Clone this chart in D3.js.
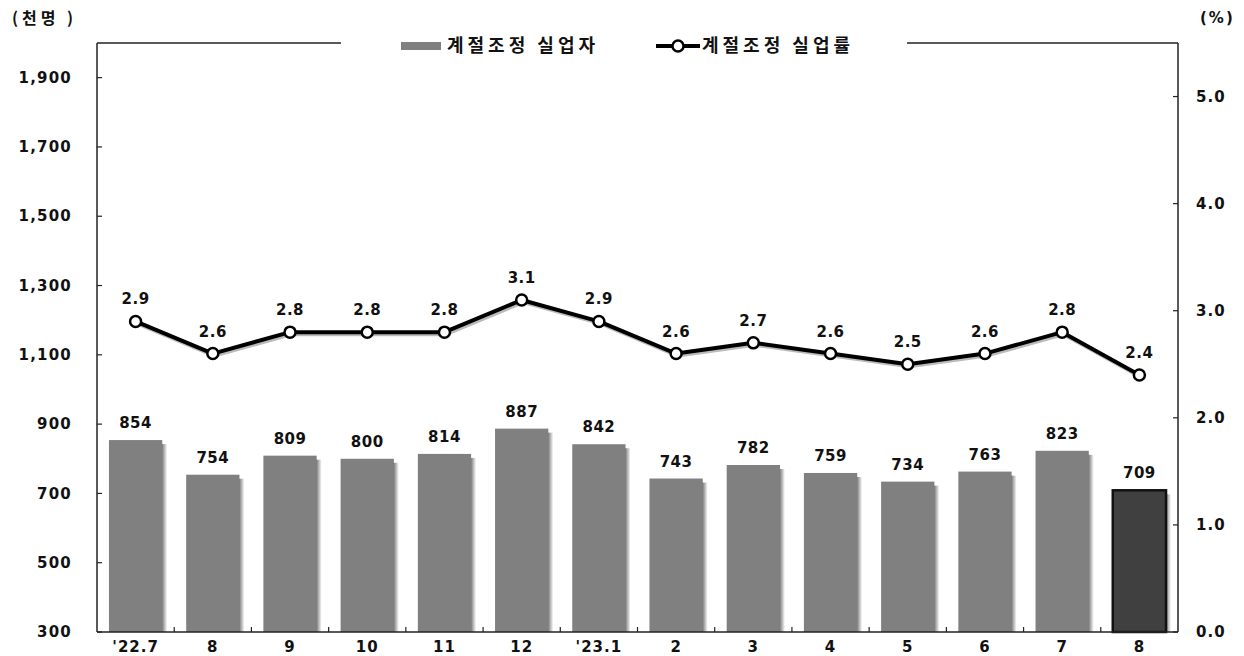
<!DOCTYPE html>
<html>
<head>
<meta charset="utf-8">
<script src="https://cdn.jsdelivr.net/npm/d3@7"></script>
<style>
  body { margin: 0; background: #fff; }
  svg text { font-family: "DejaVu Sans", sans-serif; font-weight: bold; fill: #111; font-size: 15px; letter-spacing: 0.5px; }
  svg text.kr { font-family: "Noto Sans CJK KR", sans-serif; }
</style>
</head>
<body>
<div id="graph"></div>
<script>
const width = 1244;
const height = 656;
const margin = { top: 43, right: 66, bottom: 24, left: 97 };

// Data
const months = ["'22.7", "8", "9", "10", "11", "12", "'23.1", "2", "3", "4", "5", "6", "7", "8"];
const unemployed = [854, 754, 809, 800, 814, 887, 842, 743, 782, 759, 734, 763, 823, 709];
const unemploymentRate = [2.9, 2.6, 2.8, 2.8, 2.8, 3.1, 2.9, 2.6, 2.7, 2.6, 2.5, 2.6, 2.8, 2.4];
const leftTicks = [300, 500, 700, 900, 1100, 1300, 1500, 1700, 1900];
const rightTicks = [0, 1, 2, 3, 4, 5];

const svg = d3
  .select("#graph")
  .append("svg")
  .attr("width", width)
  .attr("height", height);

const defs = svg.append("defs");
const shade = defs.append("linearGradient").attr("id", "shade");
shade.append("stop").attr("offset", "0%").attr("stop-color", "#666");
shade.append("stop").attr("offset", "100%").attr("stop-color", "#fff");

const x0 = margin.left;
const x1 = width - margin.right;
const y0 = height - margin.bottom;
const y1 = margin.top;

// Scales
const xScale = d3
  .scaleBand()
  .domain(d3.range(months.length))
  .range([x0, x1])
  .paddingInner(0.31)
  .paddingOuter(0.155);
const band = (x1 - x0) / months.length;

const yLeft = d3.scaleLinear().domain([300, 2000]).range([y0, y1]);
const yRight = d3.scaleLinear().domain([0, 5.5]).range([y0, y1]);

// Bars with shadow on the right
const bars = svg.append("g");
bars
  .selectAll("rect.shadow")
  .data(unemployed)
  .join("rect")
  .attr("class", "shadow")
  .attr("x", (d, i) => xScale(i) + xScale.bandwidth() - 1)
  .attr("y", (d) => yLeft(d) + 4)
  .attr("width", 6)
  .attr("height", (d) => y0 - yLeft(d) - 4)
  .attr("fill", "url(#shade)");
bars
  .selectAll("rect.bar")
  .data(unemployed)
  .join("rect")
  .attr("class", "bar")
  .attr("x", (d, i) => xScale(i))
  .attr("y", (d) => yLeft(d))
  .attr("width", xScale.bandwidth())
  .attr("height", (d) => y0 - yLeft(d))
  .attr("fill", (d, i) => (i === months.length - 1 ? "#404040" : "#808080"))
  .attr("stroke", (d, i) => (i === months.length - 1 ? "#111" : "none"))
  .attr("stroke-width", 2.5);

// Bar labels
bars
  .selectAll("text")
  .data(unemployed)
  .join("text")
  .attr("x", (d, i) => xScale(i) + xScale.bandwidth() / 2)
  .attr("y", (d) => yLeft(d) - 12)
  .attr("text-anchor", "middle")
  .text((d) => d);

// Line
const cx = (i) => xScale(i) + xScale.bandwidth() / 2;
const line = d3
  .line()
  .x((d, i) => cx(i))
  .y((d) => yRight(d));

svg
  .append("path")
  .datum(unemploymentRate)
  .attr("d", line)
  .attr("transform", "translate(1.5,2)")
  .attr("fill", "none")
  .attr("stroke", "#bbb")
  .attr("stroke-width", 4)
  .attr("stroke-linejoin", "round");
svg
  .append("path")
  .datum(unemploymentRate)
  .attr("d", line)
  .attr("fill", "none")
  .attr("stroke", "#000")
  .attr("stroke-width", 4)
  .attr("stroke-linejoin", "round");
svg
  .append("g")
  .selectAll("circle")
  .data(unemploymentRate)
  .join("circle")
  .attr("cx", (d, i) => cx(i))
  .attr("cy", (d) => yRight(d))
  .attr("r", 5.5)
  .attr("fill", "#fff")
  .attr("stroke", "#000")
  .attr("stroke-width", 2.5);
svg
  .append("g")
  .selectAll("text")
  .data(unemploymentRate)
  .join("text")
  .attr("x", (d, i) => cx(i))
  .attr("y", (d) => yRight(d) - 17)
  .attr("text-anchor", "middle")
  .text((d) => d.toFixed(1));

// Frame
const frame = svg.append("g").attr("stroke", "#222").attr("stroke-width", 1.5).attr("fill", "none");
frame.append("line").attr("x1", x0).attr("x2", x0).attr("y1", y1).attr("y2", y0);
frame.append("line").attr("x1", x1).attr("x2", x1).attr("y1", y1).attr("y2", y0);
frame.append("line").attr("x1", x0).attr("x2", x1).attr("y1", y0).attr("y2", y0);
frame.append("line").attr("x1", x0).attr("x2", 341).attr("y1", y1).attr("y2", y1);
frame.append("line").attr("x1", 907).attr("x2", x1).attr("y1", y1).attr("y2", y1);

// Left axis
const leftAxis = svg.append("g");
leftAxis
  .selectAll("line")
  .data(leftTicks)
  .join("line")
  .attr("x1", x0)
  .attr("x2", x0 + 5)
  .attr("y1", (d) => yLeft(d))
  .attr("y2", (d) => yLeft(d))
  .attr("stroke", "#222")
  .attr("stroke-width", 1.2);
leftAxis
  .selectAll("text")
  .data(leftTicks)
  .join("text")
  .attr("x", 72)
  .attr("y", (d) => yLeft(d))
  .attr("dy", "0.35em")
  .attr("text-anchor", "end")
  .style("letter-spacing", "1.2px")
  .text(d3.format(","));

// Right axis
const rightAxis = svg.append("g");
rightAxis
  .selectAll("line")
  .data(rightTicks)
  .join("line")
  .attr("x1", x1 - 5)
  .attr("x2", x1)
  .attr("y1", (d) => yRight(d))
  .attr("y2", (d) => yRight(d))
  .attr("stroke", "#222")
  .attr("stroke-width", 1.2);
rightAxis
  .selectAll("text")
  .data(rightTicks)
  .join("text")
  .attr("x", 1196)
  .attr("y", (d) => yRight(d))
  .attr("dy", "0.35em")
  .style("letter-spacing", "1px")
  .text(d3.format(".1f"));

// Bottom axis
const bottomAxis = svg.append("g");
bottomAxis
  .selectAll("line")
  .data(d3.range(1, months.length))
  .join("line")
  .attr("x1", (d) => x0 + d * band)
  .attr("x2", (d) => x0 + d * band)
  .attr("y1", y0)
  .attr("y2", y0 - 5)
  .attr("stroke", "#222")
  .attr("stroke-width", 1.2);
bottomAxis
  .selectAll("text")
  .data(months)
  .join("text")
  .attr("x", (d, i) => cx(i))
  .attr("y", y0 + 15)
  .attr("dy", "0.35em")
  .attr("text-anchor", "middle")
  .style("letter-spacing", "1px")
  .text((d) => d);

// Units
svg.append("text").attr("class", "kr").attr("x", 12).attr("y", 18).attr("dy", "0.35em")
  .style("font-size", "16px").style("letter-spacing", "4px").text("(천명 )");
svg.append("text").attr("x", 1200).attr("y", 18).attr("dy", "0.35em").style("letter-spacing", "2px").text("(%)");

// Legend
const legend = svg.append("g").attr("transform", "translate(0,46)");
legend.append("rect").attr("x", 401).attr("y", -4).attr("width", 40).attr("height", 8).attr("fill", "#808080");
legend.append("text").attr("class", "kr").attr("x", 447).attr("y", 0).attr("dy", "0.35em")
  .style("font-size", "18px").style("letter-spacing", "4px").text("계절조정 실업자");
legend.append("line").attr("x1", 656).attr("x2", 700).attr("y1", 0).attr("y2", 0).attr("stroke", "#000").attr("stroke-width", 4);
legend.append("circle").attr("cx", 678).attr("cy", 0).attr("r", 5.5).attr("fill", "#fff").attr("stroke", "#000").attr("stroke-width", 2.5);
legend.append("text").attr("class", "kr").attr("x", 702).attr("y", 0).attr("dy", "0.35em")
  .style("font-size", "18px").style("letter-spacing", "4px").text("계절조정 실업률");
</script>
</body>
</html>
